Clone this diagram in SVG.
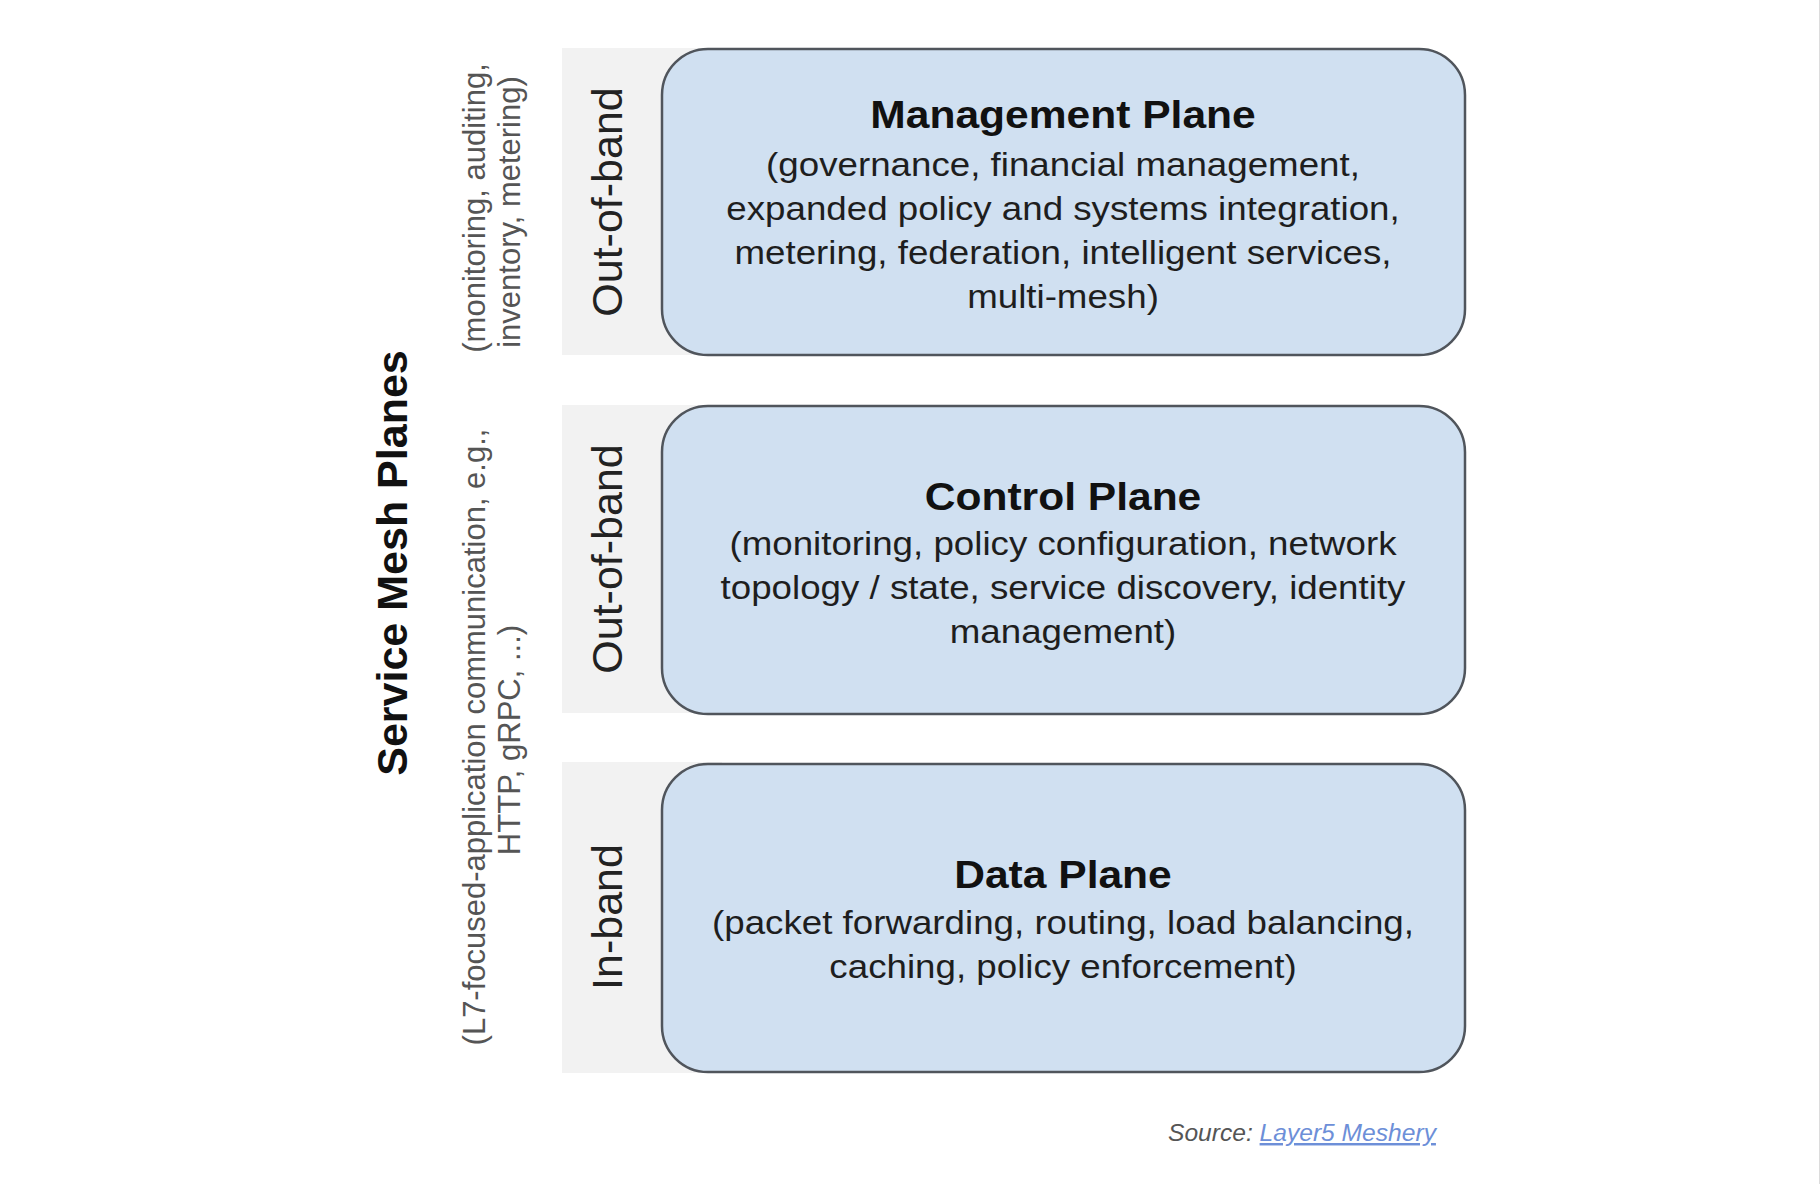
<svg xmlns="http://www.w3.org/2000/svg" width="1820" height="1184" viewBox="0 0 1820 1184">
<style>
.band{fill:#f2f2f2}
.box{fill:#d0e0f1;stroke:#50555c;stroke-width:2.5}
.t{font-family:"Liberation Sans",Arial,sans-serif;font-weight:bold;font-size:39.4px;fill:#111;text-anchor:middle}
.b{font-family:"Liberation Sans",Arial,sans-serif;font-size:34px;fill:#1e1e1e;text-anchor:middle}
.side{font-family:"Liberation Sans",Arial,sans-serif;font-size:43px;fill:#222;text-anchor:middle}
.head{font-family:"Liberation Sans",Arial,sans-serif;font-weight:bold;font-size:43px;fill:#111;text-anchor:middle}
.note{font-family:"Liberation Sans",Arial,sans-serif;font-size:31px;fill:#555;text-anchor:middle}
.src{font-family:"Liberation Sans",Arial,sans-serif;font-style:italic;font-size:24.6px}
</style>
<rect width="1820" height="1184" fill="#ffffff"/>
<line x1="1819.5" y1="0" x2="1819.5" y2="1184" stroke="#dcdcdc" stroke-width="1"/>
<g id="connectors"></g>
<g id="title">
<text class="head" transform="translate(407,563) rotate(-90)">Service Mesh Planes</text>
</g>
<g id="note-management">
<text class="note" transform="translate(485,208) rotate(-90)">(monitoring, auditing,</text>
<text class="note" transform="translate(520,212) rotate(-90)">inventory, metering)</text>
</g>
<g id="note-data">
<text class="note" transform="translate(485,737) rotate(-90)">(L7-focused-application communication, e.g.,</text>
<text class="note" transform="translate(520,740) rotate(-90)">HTTP, gRPC, ...)</text>
</g>
<g id="management-plane">
<rect class="band" x="562" y="48" width="160" height="307"/>
<text class="side" transform="translate(622,202) rotate(-90)">Out-of-band</text>
<rect class="box" x="662" y="49" width="803" height="306" rx="46" ry="46"/>
<g transform="translate(1063,0) scale(1.08,1)">
<text class="t" x="0" y="128">Management Plane</text>
<text class="b" x="0" y="176">(governance, financial management,</text>
<text class="b" x="0" y="220">expanded policy and systems integration,</text>
<text class="b" x="0" y="264">metering, federation, intelligent services,</text>
<text class="b" x="0" y="308">multi-mesh)</text>
</g>
</g>
<g id="control-plane">
<rect class="band" x="562" y="405" width="160" height="308"/>
<text class="side" transform="translate(622,559) rotate(-90)">Out-of-band</text>
<rect class="box" x="662" y="406" width="803" height="308" rx="46" ry="46"/>
<g transform="translate(1063,0) scale(1.08,1)">
<text class="t" x="0" y="510">Control Plane</text>
<text class="b" x="0" y="555">(monitoring, policy configuration, network</text>
<text class="b" x="0" y="599">topology / state, service discovery, identity</text>
<text class="b" x="0" y="643">management)</text>
</g>
</g>
<g id="data-plane">
<rect class="band" x="562" y="762" width="160" height="311"/>
<text class="side" transform="translate(622,917) rotate(-90)">In-band</text>
<rect class="box" x="662" y="764" width="803" height="308" rx="46" ry="46"/>
<g transform="translate(1063,0) scale(1.08,1)">
<text class="t" x="0" y="888">Data Plane</text>
<text class="b" x="0" y="934">(packet forwarding, routing, load balancing,</text>
<text class="b" x="0" y="978">caching, policy enforcement)</text>
</g>
</g>
<g id="source">
<text class="src" x="1168" y="1141"><tspan fill="#555">Source: </tspan><tspan fill="#6d8fd8" text-decoration="underline">Layer5 Meshery</tspan></text>
</g>
</svg>
